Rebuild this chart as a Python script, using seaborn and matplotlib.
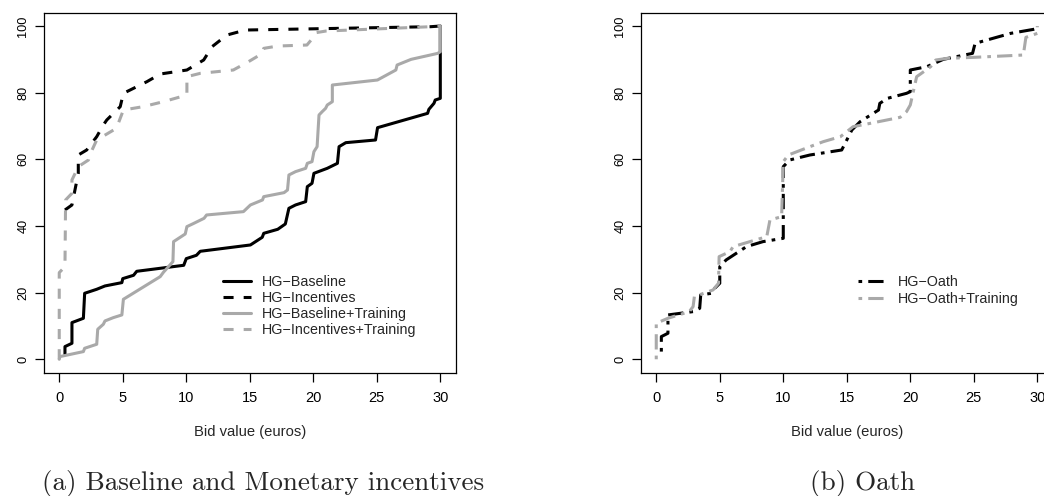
import matplotlib
matplotlib.use("Agg")
import matplotlib.pyplot as plt
import seaborn as sns
import pandas as pd

# ---------------- data ----------------
base_x = [0.45, 0.45, 1.0, 1.0, 1.9, 2.0, 2.95, 3.6, 4.93, 5.0, 5.85, 6.1, 9.8, 10.0, 10.8, 11.1,
          15.05, 15.98, 16.1, 17.2, 17.8, 18.08, 18.6, 19.4, 19.53, 19.9, 20.05, 21.1, 21.9, 22.03,
          22.56, 24.9, 25.06, 29.0, 29.1, 29.5, 29.6, 30.0, 30.0]
base_y = [1.6, 3.8, 4.8, 11.0, 12.3, 19.8, 21.0, 22.0, 23.0, 24.2, 25.2, 26.4, 28.2, 30.2, 31.2, 32.4,
          34.3, 36.6, 37.8, 39.0, 40.6, 45.3, 46.3, 47.3, 51.8, 52.8, 55.8, 57.3, 58.8, 63.8,
          65.0, 65.8, 69.5, 73.8, 75.0, 76.8, 77.8, 78.3, 100.0]

inc_x = [0.45, 1.0, 1.5, 1.5, 2.16, 2.95, 3.47, 3.74, 4.8, 5.05, 6.9, 7.95, 10.05, 11.37, 12.03,
         13.2, 14.66, 29.25, 30.0]
inc_y = [44.8, 46.3, 55.8, 61.3, 62.8, 66.8, 70.3, 71.8, 75.8, 79.8, 83.3, 85.6, 86.8, 89.8, 93.8,
         97.3, 98.8, 99.8, 100.0]

base_tr_x = [0.0, 0.05, 1.9, 2.0, 2.95, 3.03, 3.47, 3.6, 4.26, 4.93, 5.05, 7.95, 8.2, 8.6, 8.95, 9.0,
             9.92, 10.05, 10.6, 11.4, 11.6, 14.5, 15.05, 16.0, 16.1, 17.7, 17.97, 18.08, 18.6, 19.4,
             19.53, 19.9, 20.05, 20.3, 20.45, 20.7, 20.97, 21.1, 21.5, 21.5, 25.05, 26.5, 26.6,
             27.7, 29.8, 30.0, 30.0]
base_tr_y = [0.0, 0.8, 2.3, 3.3, 4.5, 9.0, 10.5, 11.5, 12.5, 13.3, 18.0, 24.8, 26.1, 27.8, 29.3, 35.3,
             37.6, 39.8, 40.8, 42.3, 43.3, 44.3, 46.3, 47.8, 48.8, 50.0, 50.8, 55.3, 56.3, 57.3,
             58.8, 59.3, 62.3, 63.8, 73.3, 74.3, 75.3, 76.3, 77.3, 82.3, 83.8, 86.8, 88.3,
             90.0, 91.8, 92.3, 100.0]

inc_tr_x = [0.0, 0.0, 0.45, 0.5, 1.0, 1.0, 1.5, 2.3, 2.4, 2.95, 4.5, 5.05, 6.6, 8.2, 10.05, 10.05,
            11.1, 13.7, 14.9, 16.0, 16.1, 17.2, 19.5, 20.05, 20.2, 21.0, 29.25, 30.0]
inc_tr_y = [0.0, 26.0, 27.8, 47.8, 49.8, 53.8, 57.8, 59.8, 61.3, 65.8, 69.3, 74.8, 75.8, 77.3, 79.3, 84.8,
            85.8, 86.8, 89.3, 91.8, 93.3, 94.0, 94.3, 96.8, 98.0, 98.5, 99.8, 100.0]

oath_x = [0.4, 0.4, 0.92, 0.92, 2.9, 3.42, 3.5, 4.34, 4.6, 5.0, 5.0, 5.5, 7.1, 8.4, 10.0, 10.0, 10.5,
          12.1, 14.6, 15.0, 15.4, 16.05, 17.5, 17.6, 18.2, 19.7, 20.0, 20.0, 21.3, 22.6, 24.9, 25.1,
          27.9, 29.7, 30.0, 30.0]
oath_y = [2.3, 6.8, 7.8, 13.3, 14.3, 15.3, 19.3, 19.8, 21.3, 22.8, 27.8, 29.8, 33.8, 35.3, 36.3, 57.8, 59.8,
          61.3, 62.8, 65.8, 68.8, 71.3, 74.8, 76.8, 78.3, 79.8, 80.3, 86.8, 87.8, 90.0, 91.8, 94.8,
          97.8, 99.0, 99.3, 100.0]

oath_tr_x = [0.0, 0.0, 0.92, 2.6, 2.9, 3.0, 4.47, 4.9, 4.95, 5.8, 6.05, 8.7, 8.95, 9.87, 10.0, 10.4,
             12.1, 13.15, 14.5, 15.5, 16.85, 19.2, 19.7, 20.0, 20.5, 20.8, 21.6, 22.0, 22.9, 25.0,
             28.9, 29.1, 30.0, 30.0]
oath_tr_y = [0.0, 10.8, 12.3, 14.3, 15.8, 18.8, 20.8, 22.8, 30.8, 32.3, 33.8, 36.8, 41.8, 42.8, 59.3, 61.3,
             63.8, 65.3, 66.8, 69.8, 70.8, 72.6, 74.3, 76.3, 84.8, 85.6, 87.8, 89.8, 90.3, 90.6,
             91.3, 96.6, 97.8, 100.0]

labels_a = ["HG\u2212Baseline", "HG\u2212Incentives", "HG\u2212Baseline+Training", "HG\u2212Incentives+Training"]
labels_b = ["HG\u2212Oath", "HG\u2212Oath+Training"]
x_ticks = [0, 5, 10, 15, 20, 25, 30]
y_ticks = [0, 20, 40, 60, 80, 100]
x_label = "Bid value (euros)"
caption_a = "(a) Baseline and Monetary incentives"
caption_b = "(b) Oath"

# ---------------- style ----------------
sns.set_theme(style="ticks")
plt.rcParams["font.family"] = ["Liberation Sans", "DejaVu Sans"]
plt.rcParams["axes.edgecolor"] = "black"
plt.rcParams["axes.linewidth"] = 0.9
plt.rcParams["xtick.color"] = "black"
plt.rcParams["ytick.color"] = "black"

BLACK = "#000000"
GRAY = "#A9A9A9"
LW = 2.2
DASH = (0, (3.3, 3.3))
DOTDASH = (0, (1.2, 2.0, 5.0, 2.0))

fig = plt.figure(figsize=(10.44, 4.96), dpi=100)
ax1 = fig.add_axes([0.04215, 0.2488, 0.3942, 0.7256])
ax2 = fig.add_axes([0.614, 0.2488, 0.3942, 0.7256])

def draw(ax, xs, ys, color, ls, label):
    df = pd.DataFrame({"x": xs, "y": ys})
    sns.lineplot(data=df, x="x", y="y", ax=ax, sort=False, estimator=None,
                 color=color, linewidth=LW, linestyle=ls, label=label)

draw(ax1, base_x, base_y, BLACK, "-", labels_a[0])
draw(ax1, inc_x, inc_y, BLACK, DASH, labels_a[1])
draw(ax1, base_tr_x, base_tr_y, GRAY, "-", labels_a[2])
draw(ax1, inc_tr_x, inc_tr_y, GRAY, DASH, labels_a[3])

draw(ax2, oath_x, oath_y, BLACK, DOTDASH, labels_b[0])
draw(ax2, oath_tr_x, oath_tr_y, GRAY, DOTDASH, labels_b[1])

for ax in (ax1, ax2):
    ax.set_xlim(-1.2, 31.2)
    ax.set_ylim(-4, 104)
    ax.set_xticks(x_ticks)
    ax.set_yticks(y_ticks)
    ax.set_xticklabels([str(t) for t in x_ticks])
    ax.set_yticklabels([str(t) for t in y_ticks])
    ax.tick_params(axis="both", direction="out", length=6.5, width=0.9)
    ax.tick_params(axis="x", pad=6.5, labelsize=10.5)
    ax.tick_params(axis="y", pad=4.0, labelrotation=90, labelsize=9.2)
    for lab in ax.get_yticklabels():
        lab.set_va("center")
    for s in ax.spines.values():
        s.set_visible(True)
        s.set_color("black")
        s.set_linewidth(0.9)
    ax.set_xlabel(x_label, fontsize=10.6)
    ax.set_ylabel("")
    ax.xaxis.set_label_coords(0.5, -0.146)
    ax.grid(False)

ax1.legend(frameon=False, loc="upper left", bbox_to_anchor=(0.435, 0.27),
           borderpad=0, borderaxespad=0, handlelength=1.95, handletextpad=0.78,
           labelspacing=0.12, fontsize=10.3)
ax2.legend(frameon=False, loc="upper left", bbox_to_anchor=(0.528, 0.27),
           borderpad=0, borderaxespad=0, handlelength=1.88, handletextpad=0.92,
           labelspacing=0.2, fontsize=10.3)

fig.text(0.252, 0.0115, caption_a, fontsize=19.5, family="cmr10", ha="center", va="baseline")
fig.text(0.8266, 0.0115, caption_b, fontsize=19.5, family="cmr10", ha="center", va="baseline")

fig.savefig("out.png", dpi=100, facecolor="white")
